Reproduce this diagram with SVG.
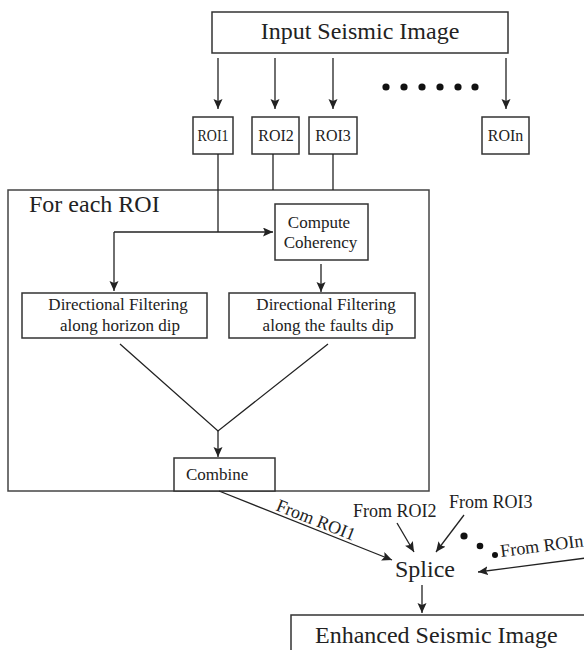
<svg xmlns="http://www.w3.org/2000/svg" width="584" height="650" viewBox="0 0 584 650">
<style>
.box{fill:#fff;stroke:#333;stroke-width:1.5}
.frame{fill:none;stroke:#444;stroke-width:1.5}
.ln{fill:none;stroke:#222;stroke-width:1.3}
.ar{fill:none;stroke:#222;stroke-width:1.3;marker-end:url(#ah)}
text{font-family:"Liberation Serif","Times New Roman",serif;fill:#222}
.big{font-size:24px}
.mid{font-size:17px}
.roi{font-size:16px}
.lbl{font-size:18px}
.dot{fill:#111}
</style>
<defs>
<marker id="ah" markerUnits="userSpaceOnUse" markerWidth="11" markerHeight="10" refX="10" refY="4.5" orient="auto">
<path d="M0,0 L10,4.5 L0,9 L2,4.5 z" fill="#222"/>
</marker>
</defs>
<g id="for-each-roi">
<rect class="frame" x="8" y="190" width="421" height="301"/>
<text class="big" x="29" y="212">For each ROI</text>
</g>
<g id="input">
<rect class="box" x="212" y="12" width="296" height="41"/>
<text class="big" x="360" y="39" text-anchor="middle">Input Seismic Image</text>
</g>
<g id="roi1">
<rect class="box" x="193" y="117" width="40" height="37"/>
<text class="roi" x="213" y="141" text-anchor="middle" textLength="31" lengthAdjust="spacingAndGlyphs">ROI1</text>
</g>
<g id="roi2">
<rect class="box" x="252" y="117" width="47" height="37"/>
<text class="roi" x="276" y="141" text-anchor="middle">ROI2</text>
</g>
<g id="roi3">
<rect class="box" x="309" y="117" width="48" height="37"/>
<text class="roi" x="333" y="141" text-anchor="middle">ROI3</text>
</g>
<g id="roin">
<rect class="box" x="482" y="117" width="47" height="37"/>
<text class="roi" x="505.5" y="141" text-anchor="middle">ROIn</text>
</g>
<g id="compute">
<rect class="box" x="275" y="204" width="93" height="56"/>
<text class="mid" x="319" y="228" text-anchor="middle">Compute</text>
<text class="mid" x="320.5" y="248" text-anchor="middle">Coherency</text>
</g>
<g id="dir-horizon">
<rect class="box" x="22" y="293" width="185" height="45"/>
<text class="mid" x="118" y="310" text-anchor="middle">Directional Filtering</text>
<text class="mid" x="120" y="331" text-anchor="middle">along horizon dip</text>
</g>
<g id="dir-faults">
<rect class="box" x="229" y="293" width="186" height="45"/>
<text class="mid" x="326" y="310" text-anchor="middle">Directional Filtering</text>
<text class="mid" x="328" y="331" text-anchor="middle">along the faults dip</text>
</g>
<g id="combine">
<rect class="box" x="174" y="458" width="101" height="33"/>
<text class="mid" x="186" y="480">Combine</text>
</g>
<g id="splice">
<text class="big" x="395" y="577">Splice</text>
</g>
<g id="enhanced">
<rect class="box" x="291" y="615" width="300" height="50"/>
<text class="big" x="315" y="643">Enhanced Seismic Image</text>
</g>
<g id="connectors">
<line class="ar" x1="218" y1="58" x2="218" y2="109"/>
<line class="ar" x1="275" y1="58" x2="275" y2="109"/>
<line class="ar" x1="333" y1="58" x2="333" y2="109"/>
<line class="ar" x1="506" y1="58" x2="506" y2="109"/>
<circle class="dot" cx="386" cy="87" r="3.6"/>
<circle class="dot" cx="404" cy="87" r="3.6"/>
<circle class="dot" cx="422" cy="87" r="3.6"/>
<circle class="dot" cx="440" cy="87" r="3.6"/>
<circle class="dot" cx="458" cy="87" r="3.6"/>
<circle class="dot" cx="475" cy="87" r="3.6"/>
<line class="ln" x1="218" y1="154" x2="218" y2="232"/>
<line class="ln" x1="273" y1="154" x2="273" y2="190"/>
<line class="ln" x1="333" y1="154" x2="333" y2="190"/>
<line class="ar" x1="114" y1="232" x2="273" y2="232"/>
<line class="ar" x1="114" y1="232" x2="114" y2="291"/>
<line class="ar" x1="321" y1="264" x2="321" y2="292"/>
<polyline class="ln" points="120,344 218,431 328,344"/>
<line class="ar" x1="218" y1="431" x2="218" y2="457"/>
<line class="ar" x1="219" y1="491" x2="392" y2="560"/>
<text class="lbl" transform="translate(275,510) rotate(21.7)">From ROI1</text>
<text class="lbl" x="353" y="517">From ROI2</text>
<line class="ar" x1="397" y1="523" x2="414" y2="552"/>
<text class="lbl" x="449" y="508">From ROI3</text>
<line class="ar" x1="464" y1="515" x2="436" y2="552"/>
<circle class="dot" cx="464" cy="536" r="3.6"/>
<circle class="dot" cx="480" cy="546" r="3.3"/>
<circle class="dot" cx="495" cy="555" r="3"/>
<text class="lbl" transform="translate(501,557) rotate(-7.3)">From ROIn</text>
<line class="ar" x1="586" y1="558" x2="478" y2="572"/>
<line class="ar" x1="422" y1="585" x2="422" y2="613"/>
</g>
</svg>
